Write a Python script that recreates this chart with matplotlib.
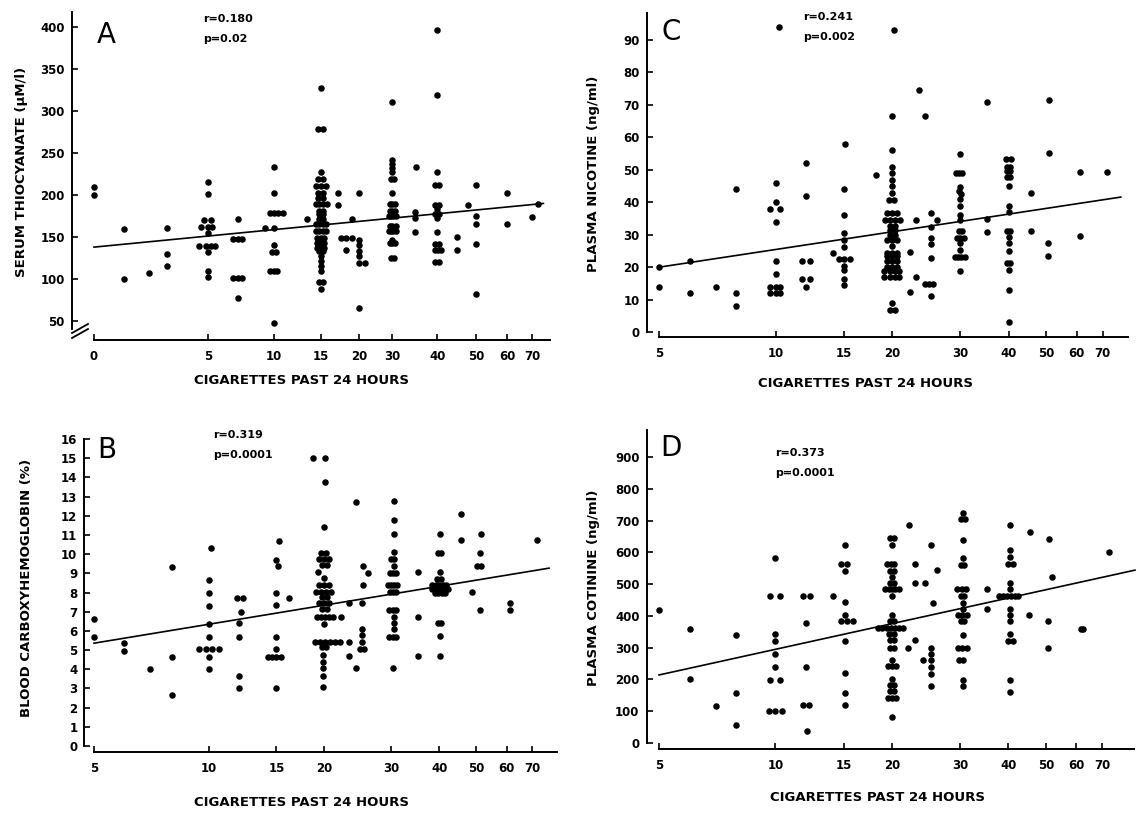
import matplotlib

matplotlib.use("Agg")
import matplotlib.pyplot as plt
import numpy as np
from matplotlib.ticker import FixedLocator, FixedFormatter, NullLocator

# ---- panel A: serum thiocyanate -------------------------------------------
a_x = [0, 0, 1.3, 1.3, 2.4, 3.2, 3.2, 3.2,
       4.8, 5.2, 4.7, 5, 5.3, 5, 4.6, 4.9, 5.2, 5.5, 5, 5, 5, 5, 5,
       7.25, 6.9, 7.25, 7.6, 6.9, 7.25, 7.6, 7.25, 9.3,
       10, 10, 9.7, 10, 10.4, 10.9, 10, 10, 9.8, 10.2, 9.7, 10, 10.3, 10, 13.5,
       15, 14.7, 15.2, 15, 14.7, 15.2, 14.5, 15, 15.6, 14.7, 15.2, 14.7, 15.2,
       14.4, 14.8, 15.2, 15.7, 14.8, 15.2, 14.8, 15.2, 14.8, 15.2,
       14.4, 14.8, 15.2, 15.6, 14.4, 14.8, 15.2, 15.6, 14.6, 15, 15.4,
       14.6, 15, 15.4, 14.6, 15, 15.4, 14.8, 15.2, 15, 15, 15, 15, 14.8, 15.2, 15,
       17.2, 17.2, 17.6, 18.3, 19, 18.2, 19.1,
       20, 20, 20, 20, 20, 20, 21.8, 20,
       30, 30, 30, 30, 30, 29.6, 30.4, 30, 29.4, 30, 30.6, 29.4, 30, 30.6,
       29, 29.6, 30.2, 30.8, 29.2, 30, 30.8, 29, 29.6, 30.2, 30.8, 30,
       29.4, 30, 30.6, 29.6, 30.4,
       35.3, 35, 35, 35,
       40, 40, 40, 39.5, 40.5, 39.5, 40.5, 40, 39.5, 40, 40.5, 40, 40,
       39.5, 40.5, 39.5, 40.2, 41, 39.5, 40.5,
       45, 45, 47.9, 50, 50, 50, 50, 50, 60, 60, 70, 72.7]
a_y = [210, 200, 160, 100, 107, 161, 130, 115,
       170, 170, 162, 162, 162, 155, 139, 139, 139, 139, 132, 110, 103, 216, 201,
       171, 148, 148, 148, 101, 101, 101, 78, 161,
       233, 202, 179, 179, 179, 179, 161, 140, 132, 132, 110, 110, 110, 48, 171,
       327, 279, 279, 227, 219, 219, 211, 211, 211, 203, 203, 197, 197,
       189, 189, 189, 189, 181, 181, 177, 177, 171, 171,
       165, 165, 165, 165, 157, 157, 157, 157, 149, 149, 149,
       143, 143, 143, 137, 137, 137, 133, 133, 127, 121, 115, 110, 96, 96, 88,
       203, 188, 149, 149, 149, 134, 171,
       202, 147, 141, 133, 127, 119, 119, 65,
       311, 242, 237, 232, 227, 219, 219, 203, 189, 189, 189, 181, 181, 181,
       175, 175, 175, 175, 163, 163, 163, 157, 157, 157, 157, 147,
       143, 143, 143, 125, 125,
       233, 180, 173, 156,
       397, 319, 227, 212, 212, 188, 188, 183, 177, 177, 177, 173, 156,
       142, 142, 135, 135, 135, 120, 120,
       150, 135, 188, 212, 175, 166, 142, 82, 203, 166, 174, 189]
a_fit_x = [0, 75]
a_fit_y = [138, 190]
# the printed x axis of panel A is hand-spaced: tick value -> distance along axis
a_knots = [0, 5, 10, 15, 20, 30, 40, 50, 60, 70, 80]
a_warp = [0, 114, 180, 227, 265, 298, 343, 382, 413, 438, 460]
a_xticks = [0, 5, 10, 15, 20, 30, 40, 50, 60, 70]
a_yticks = [50, 100, 150, 200, 250, 300, 350, 400]

# ---- panel C: plasma nicotine ----------------------------------------------
c_x = [5, 5, 6, 6, 7, 7.9, 7.9, 7.9,
       10.2, 10, 10, 9.7, 10.3, 10, 10, 10, 9.7, 10, 10.3, 9.7, 10, 10.3,
       12, 12, 11.7, 12.3, 11.7, 12.3, 12, 14.1,
       15.1, 15, 15, 15, 15, 15, 14.6, 15, 15.6, 15, 15, 15, 15, 18.2,
       20.2, 20, 20, 20, 20, 20, 20, 20, 19.6, 20.2, 19.4, 20, 20.6,
       19.2, 19.8, 20.4, 21, 19.7, 20.3, 19.7, 20.3, 19.7, 20.3,
       19.4, 20, 20.6, 20, 19.4, 20, 20.6, 19.4, 20, 20.6, 19.4, 20, 20.6,
       19.4, 20, 20.6, 19.1, 19.7, 20.3, 20.9, 19.1, 19.7, 20.3, 20.9,
       20, 19.7, 20.3,
       22.2, 23, 22.2, 23.1, 23.5, 24.3, 26.2,
       25.2, 25.2, 25.2, 25.2, 25.2, 24.3, 24.9, 25.5, 25.2,
       30, 29.2, 29.8, 30.4, 30, 29.8, 30.2, 30, 30, 30, 30, 29.7, 30.3,
       29.4, 30, 30.6, 30, 30, 29, 29.6, 30.2, 30.8, 30,
       35.2, 35.2, 35.2,
       39.4, 40.6, 39.6, 40.4, 39.6, 40.4, 39.6, 40.4, 40, 40, 40,
       39.6, 40.4, 40, 40, 40, 39.6, 40.4, 40, 40, 40,
       45.7, 45.7, 51, 51, 50.5, 50.5, 61, 61, 72]
c_y = [20, 14, 22, 12, 14, 44, 12, 8,
       94, 46, 40, 38, 38, 34, 22, 18, 14, 14, 14, 12, 12, 12,
       52, 42, 22, 22, 16.5, 16.5, 14, 24.5,
       58, 44, 36, 30.5, 28.5, 26.3, 22.5, 22.5, 22.5, 20.5, 19, 16.5, 14.5, 48.5,
       93, 66.5, 56, 51, 49, 47, 45, 43, 40.7, 40.7, 36.6, 36.6, 36.6,
       34.6, 34.6, 34.6, 34.6, 32.7, 32.7, 31.5, 31.5, 30, 30,
       28.4, 28.4, 28.4, 26.4, 24.5, 24.5, 24.5, 23.3, 23.3, 23.3, 21.8, 21.8, 21.8,
       20.2, 20.2, 20.2, 18.7, 18.7, 18.7, 18.7, 17.1, 17.1, 17.1, 17.1,
       8.9, 6.9, 6.9,
       24.8, 17.1, 12.5, 34.6, 74.6, 66.6, 34.6,
       36.8, 32.3, 28.9, 27.1, 22.8, 14.8, 14.8, 14.8, 11,
       55, 49, 49, 49, 44.8, 43.5, 42.5, 40.9, 38.7, 36.1, 34.6, 31, 31,
       28.9, 28.9, 28.9, 27.6, 25.3, 23.1, 23.1, 23.1, 23.1, 18.7,
       71, 34.8, 30.8,
       53.3, 53.3, 51, 51, 49.5, 49.5, 47.9, 47.9, 45, 38.9, 37.1,
       31, 31, 29.2, 27.6, 25.1, 21.2, 21.2, 19.2, 13, 3.1,
       43, 31.1, 71.5, 55.3, 27.4, 23.5, 49.3, 29.7, 49.3]
c_fit_x = [5, 78]
c_fit_y = [20, 41.6]
c_yticks = [0, 10, 20, 30, 40, 50, 60, 70, 80, 90]

# ---- panel B: blood carboxyhemoglobin --------------------------------------
b_x = [5, 5, 6, 6, 7, 8, 8, 8,
       10.1, 10, 10, 10, 10, 10, 9.4, 9.8, 10.2, 10.6, 10, 10,
       11.8, 12.3, 12.1, 12, 12, 12, 12, 14.3,
       15.2, 15, 15.1, 15, 15, 15, 15, 14.6, 15, 15.4, 15, 16.2, 18.7,
       20.1, 20.1, 20, 19.6, 20.2, 19.4, 20, 20.6, 19.7, 20.3, 19.3, 20,
       19.4, 20, 20.6, 19, 19.6, 20.2, 20.8, 19.7, 20.3, 19.4, 20, 20.6,
       19.7, 20.3, 19.1, 19.6, 20.1, 20.6, 21.1, 20,
       18.9, 19.5, 20.1, 20.7, 21.3, 19.7, 20.2, 19.9, 19.9, 19.9, 19.9, 19.9,
       22.2, 22, 23.2, 23.2, 23.2, 24.2, 24.3,
       25.3, 25.3, 25.1, 25.1, 25.1, 25.1, 24.8, 25.4, 26.1,
       30.4, 30.4, 30.4, 30.4, 29.9, 30.5, 30.4, 29.7, 30.3, 30.9,
       29.3, 29.9, 30.5, 31.1, 29.7, 30.3, 30.9, 29.5, 30.2, 30.9,
       30.4, 30.4, 30.4, 29.5, 30.2, 30.9, 30.3,
       35.1, 35.1, 35.1,
       40.3, 39.7, 40.5, 40.2, 39.4, 40.4, 38.4, 39.2, 40, 40.8, 41.6,
       38.2, 39, 39.8, 40.6, 41.4, 42.2, 39, 39.8, 40.6, 41.4,
       39.7, 40.5, 40.2, 40.2,
       45.6, 45.6, 48.8, 51.3, 51, 50.3, 51.5, 51, 61.3, 61.3, 72]
b_y = [6.63, 5.7, 5.36, 4.97, 4.0, 9.32, 4.66, 2.66,
       10.3, 8.66, 8.0, 7.3, 6.35, 5.7, 5.04, 5.04, 5.04, 5.04, 4.66, 4.0,
       7.7, 7.7, 7.0, 6.4, 5.7, 3.67, 3.0, 4.66,
       10.66, 9.7, 9.36, 8.0, 7.36, 5.7, 5.04, 4.66, 4.66, 4.66, 3.0, 7.7, 15.0,
       15.0, 13.75, 11.4, 10.05, 10.05, 9.74, 9.74, 9.74, 9.44, 9.44, 9.06, 8.75,
       8.4, 8.4, 8.4, 8.05, 8.05, 8.05, 8.05, 7.76, 7.76, 7.44, 7.44, 7.44,
       7.13, 7.13, 6.75, 6.75, 6.75, 6.75, 6.75, 6.35,
       5.41, 5.41, 5.41, 5.41, 5.41, 5.15, 5.15, 4.75, 4.4, 4.05, 3.67, 3.06,
       6.7, 5.41, 7.44, 5.41, 4.71, 4.05, 12.7,
       9.36, 8.4, 7.44, 6.1, 5.8, 5.4, 5.04, 5.04, 9.0,
       12.75, 11.76, 11.06, 10.09, 9.74, 9.74, 9.39, 9.04, 9.04, 9.04,
       8.4, 8.4, 8.4, 8.4, 8.05, 8.05, 8.05, 7.1, 7.1, 7.1,
       6.75, 6.4, 6.1, 5.7, 5.7, 5.7, 4.05,
       9.06, 6.7, 4.71,
       11.06, 10.05, 10.05, 9.06, 8.7, 8.7, 8.4, 8.4, 8.4, 8.4, 8.4,
       8.17, 8.17, 8.17, 8.17, 8.17, 8.17, 8.0, 8.0, 8.0, 8.0,
       6.4, 6.4, 5.74, 4.71,
       12.1, 10.75, 8.05, 11.06, 10.05, 9.39, 9.39, 7.1, 7.44, 7.1, 10.75]
b_fit_x = [5, 77.5]
b_fit_y = [5.36, 9.27]
b_yticks = list(range(0, 17))

# ---- panel D: plasma cotinine ----------------------------------------------
d_x = [5, 6, 6, 7, 7.9, 7.9, 7.9,
       10, 9.7, 10.3, 10, 10, 10, 10, 9.7, 10.3, 9.6, 10, 10.4,
       11.8, 12.3, 12, 12, 11.8, 12.2, 12.1, 14.1,
       15.1, 14.8, 15.3, 15.1, 15.1, 15.1, 14.8, 15.3, 15.9, 15.1, 15.1, 15.1, 15.1,
       19.8, 20.2, 20, 19.4, 19.9, 20.3, 19.8, 20.2, 20, 19.8, 20.3,
       19.2, 19.6, 20, 20.4, 20.9, 20, 20, 19.8, 20.2,
       18.4, 18.9, 19.4, 19.9, 20.4, 20.9, 21.4, 19.7, 20.3, 19.8, 20.2,
       19.8, 20.2, 20, 19.5, 20, 20.5, 20, 19.8, 20.2, 19.8, 20.2,
       19.5, 20, 20.5, 20,
       22.1, 23, 23, 24.3, 22, 23, 24, 25.5, 25.3, 26.1,
       25.3, 25.3, 25.3, 25.3, 25.3, 25.3,
       30.6, 30.2, 30.9, 30.6, 30.6, 30.1, 30.8, 29.5, 30.3, 31.1, 30.1, 30.8,
       30.6, 30.6, 29.6, 30.4, 31.2, 30.1, 30.8, 30.6, 29.6, 30.4, 31.2,
       29.9, 30.6, 30.5, 30.5,
       35.3, 35.2,
       40.5, 40.5, 40.5, 40, 41, 40.5, 40.5, 37.9, 38.8, 39.7, 40.6, 41.5, 42.4,
       40.5, 40.5, 40.5, 40.5, 40, 41, 40.5, 40.5,
       45.5, 45.3, 51, 52, 50.7, 50.7, 61.5, 62.5, 73]
d_y = [420, 360, 200, 116, 339, 158, 58,
       582, 462, 462, 344, 321, 281, 239, 199, 199, 100, 100, 100,
       462, 462, 379, 239, 121, 121, 38, 462,
       622, 564, 564, 541, 443, 402, 384, 384, 383, 321, 220, 158, 118.5,
       645, 645, 622, 562, 562, 562, 541, 541, 522, 503, 503,
       483, 483, 483, 483, 483, 462, 402, 383, 383,
       363, 363, 363, 363, 363, 363, 363, 344, 344, 323, 323,
       299, 299, 262, 241, 241, 241, 202, 181, 181, 162, 162,
       143, 143, 143, 82,
       685, 562, 503, 503, 300, 323, 260, 441, 622, 543,
       300, 281, 260, 239, 218, 178,
       724, 704, 704, 640, 583, 561, 561, 484, 484, 484, 463, 463,
       441, 421, 402, 402, 402, 383, 383, 339, 299, 299, 299,
       260, 260, 199, 178,
       484, 421,
       685, 606, 585, 562, 562, 503, 484, 463, 463, 463, 463, 463, 463,
       421, 402, 383, 342, 321, 321, 199, 160,
       664, 402, 641, 522, 383, 299, 360, 360, 601]
d_fit_x = [5, 85]
d_fit_y = [214, 544]
d_yticks = [0, 100, 200, 300, 400, 500, 600, 700, 800, 900]

log_xticks = [5, 10, 15, 20, 30, 40, 50, 60, 70]

W, H = 1136, 813
FONT = "DejaVu Sans"
INK = "black"


def _box(left, top, right, bottom):
    """Pixel box of the reference -> figure fraction rectangle."""
    return [left / W, 1 - bottom / H, (right - left) / W, (bottom - top) / H]


def _fig_text(fig, x, y, s, **kw):
    fig.text(x / W, 1 - y / H, s, family=FONT, color=INK, **kw)


def _style_axes(ax, xticks, yticks, y_low, y_high, left_offset):
    for side in ("top", "right"):
        ax.spines[side].set_visible(False)
    ax.spines["left"].set_position(("outward", left_offset))
    ax.spines["left"].set_bounds(y_low, y_high)
    for side in ("left", "bottom"):
        ax.spines[side].set_linewidth(1.4)
    ax.xaxis.set_major_locator(FixedLocator(xticks))
    ax.xaxis.set_major_formatter(FixedFormatter([str(t) for t in xticks]))
    ax.xaxis.set_minor_locator(NullLocator())
    ax.set_yticks(yticks)
    ax.set_yticklabels([str(t) for t in yticks])
    ax.tick_params(direction="in", length=4, width=1.2, labelsize=8.5, colors=INK)
    ax.tick_params(axis="x", pad=7)
    ax.tick_params(axis="y", pad=5)
    for lab in ax.get_xticklabels() + ax.get_yticklabels():
        lab.set_fontweight("bold")
        lab.set_family(FONT)


def _panel(ax, xs, ys, fit_x, fit_y):
    ax.scatter(xs, ys, s=22, color=INK, linewidths=0, zorder=3, clip_on=False)
    ax.plot(fit_x, fit_y, color=INK, linewidth=1.2, zorder=2, clip_on=False)


fig = plt.figure(figsize=(W / 100, H / 100), dpi=100)

# panel A
ax_a = fig.add_axes(_box(94, 12, 550, 340))
ax_a.set_xscale("function", functions=(lambda v: np.interp(v, a_knots, a_warp),
                                       lambda v: np.interp(v, a_warp, a_knots)))
_panel(ax_a, a_x, a_y, a_fit_x, a_fit_y)
ax_a.set_xlim(0, 78)
ax_a.set_ylim(27.4, 418)
_style_axes(ax_a, a_xticks, a_yticks, 41, 418, 16)
for dy in (0, 5):
    fig.add_artist(plt.Line2D([72 / W, 88 / W], [1 - (338 - dy) / H, 1 - (329 - dy) / H],
                              color=INK, linewidth=1.3))

# panel C
ax_c = fig.add_axes(_box(659, 13, 1128, 337))
ax_c.set_xscale("log")
_panel(ax_c, c_x, c_y, c_fit_x, c_fit_y)
ax_c.set_xlim(5, 81.4)
ax_c.set_ylim(-1.5, 98.3)
_style_axes(ax_c, log_xticks, c_yticks, 0, 98.3, 9)

# panel B
ax_b = fig.add_axes(_box(94, 439, 557, 752))
ax_b.set_xscale("log")
_panel(ax_b, b_x, b_y, b_fit_x, b_fit_y)
ax_b.set_xlim(5, 81.3)
ax_b.set_ylim(-0.31, 16)
_style_axes(ax_b, log_xticks, b_yticks, 0, 16, 7)

# panel D
ax_d = fig.add_axes(_box(659, 430, 1134, 749))
ax_d.set_xscale("log")
_panel(ax_d, d_x, d_y, d_fit_x, d_fit_y)
ax_d.set_xlim(5, 84.5)
ax_d.set_ylim(-19, 985)
_style_axes(ax_d, log_xticks, d_yticks, 0, 985, 9)

# panel letters and statistics
for letter, (lx, ly) in {"A": (106, 35), "C": (671, 32), "B": (107, 450), "D": (671, 448)}.items():
    _fig_text(fig, lx, ly, letter, fontsize=20, ha="center", va="center")
stats = [
    (203, 19, "r=0.180", "p=0.02"),
    (803, 17, "r=0.241", "p=0.002"),
    (213, 435, "r=0.319", "p=0.0001"),
    (775, 453, "r=0.373", "p=0.0001"),
]
for sx, sy, r_txt, p_txt in stats:
    _fig_text(fig, sx, sy, r_txt, fontsize=8, fontweight="bold", ha="left", va="center")
    _fig_text(fig, sx, sy + 20, p_txt, fontsize=8, fontweight="bold", ha="left", va="center")

# axis titles
x_title = "CIGARETTES PAST 24 HOURS"
for tx, ty in [(301, 380), (865, 383), (301, 802), (878, 797)]:
    _fig_text(fig, tx, ty, x_title, fontsize=9.5, fontweight="bold", ha="center", va="center")
y_titles = [
    (22, 172, "SERUM THIOCYANATE (\u03bcM/l)"),
    (593, 174, "PLASMA NICOTINE (ng/ml)"),
    (27, 588, "BLOOD CARBOXYHEMOGLOBIN (%)"),
    (593, 588, "PLASMA COTININE (ng/ml)"),
]
for tx, ty, s in y_titles:
    _fig_text(fig, tx, ty, s, fontsize=9.5, fontweight="bold", ha="center", va="center",
              rotation=90)

fig.savefig("out.png", dpi=100)
